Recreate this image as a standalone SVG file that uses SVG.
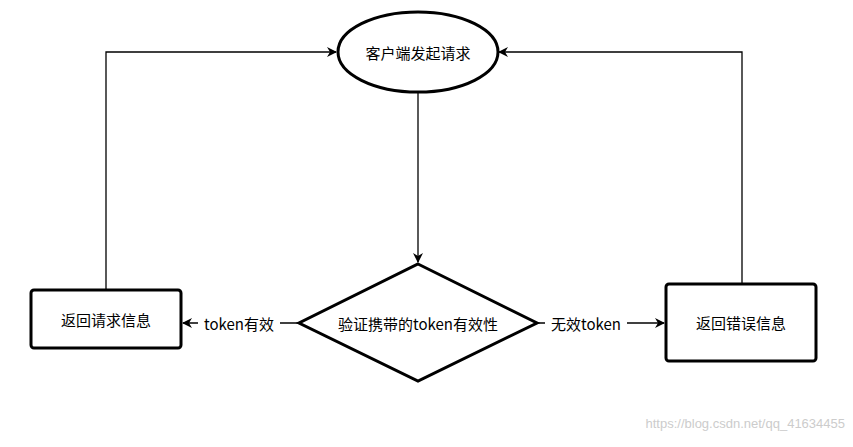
<svg xmlns="http://www.w3.org/2000/svg" width="853" height="447" viewBox="0 0 853 447">
<style>
.n{fill:#fff;stroke:#000;stroke-width:3}
.t{font-family:"Noto Sans CJK SC","Liberation Sans",sans-serif;font-size:15px;text-anchor:middle;dominant-baseline:central}
.c{fill:none;stroke:#000;stroke-width:1.3}
</style>
<defs><marker id="a" markerWidth="10" markerHeight="10" refX="9" refY="5" orient="auto" markerUnits="userSpaceOnUse"><path d="M0,0 L10,5 L0,10 L3,5z" fill="#000"/></marker></defs>
<rect width="853" height="447" fill="#fff"/>
<g id="connectors">
<path class="c" d="M418,92 V262" marker-end="url(#a)"/>
<path class="c" d="M299,323 H183" marker-end="url(#a)"/>
<path class="c" d="M537,323 H664" marker-end="url(#a)"/>
<path class="c" d="M106,290 V52 H336" marker-end="url(#a)"/>
<path class="c" d="M742,284 V52 H499" marker-end="url(#a)"/>
<rect x="198" y="313" width="82" height="20" fill="#fff"/>
<text class="t" x="239" y="323">token有效</text>
<rect x="545" y="313" width="82" height="20" fill="#fff"/>
<text class="t" x="586" y="323">无效token</text>
</g>
<g id="start"><ellipse class="n" cx="418" cy="52" rx="80" ry="40"/><text class="t" x="418" y="52">客户端发起请求</text></g>
<g id="check"><path class="n" d="M418,264 L537,323 L418,381 L299,323z"/><text class="t" x="418" y="323">验证携带的token有效性</text></g>
<g id="ok"><rect class="n" x="31" y="290" width="150" height="58" rx="3"/><text class="t" x="106" y="319">返回请求信息</text></g>
<g id="err"><rect class="n" x="666" y="284" width="150" height="77" rx="3"/><text class="t" x="741" y="322">返回错误信息</text></g>
<text x="845" y="428" font-family="Liberation Sans,sans-serif" font-size="13" fill="#ccc" text-anchor="end">https://blog.csdn.net/qq_41634455</text>
</svg>
